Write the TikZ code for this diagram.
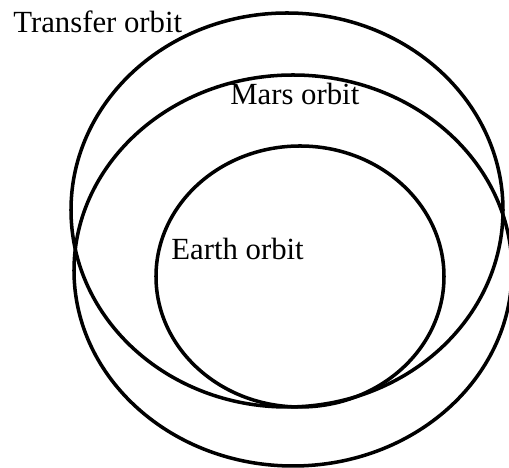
\documentclass[tikz,border=0pt]{standalone}
\usepackage{fontspec}
\setmainfont{Liberation Serif}
\usepackage{tikz}
\usetikzlibrary{shapes.geometric,positioning}

\tikzset{
  orbit/.style={ellipse, draw, line width=2pt, inner sep=0pt},
  orbitlabel/.style={anchor=base west, inner sep=0pt, font=\fontsize{17.5}{21}\selectfont}
}

\begin{document}
\begin{tikzpicture}
      \useasboundingbox (0,0) rectangle (10.18,9.36);
      % The three orbits
      \node[orbit, minimum width=5.76cm, minimum height=5.22cm] (earth) at (6.00,3.83) {};
      \node[orbit, minimum width=8.76cm, minimum height=7.82cm] (mars) at (5.86,3.95) {};
      \node[orbit, minimum width=8.64cm, minimum height=7.88cm] (transfer) at (5.74,5.16) {};
      % Labels
      \node[orbitlabel] (transferlabel) at (0.26,8.70) {Transfer orbit};
      \node[orbitlabel] (marslabel) at (4.60,7.26) {Mars orbit};
      \node[orbitlabel] (earthlabel) at (3.42,4.16) {Earth orbit};
\end{tikzpicture}
\end{document}
